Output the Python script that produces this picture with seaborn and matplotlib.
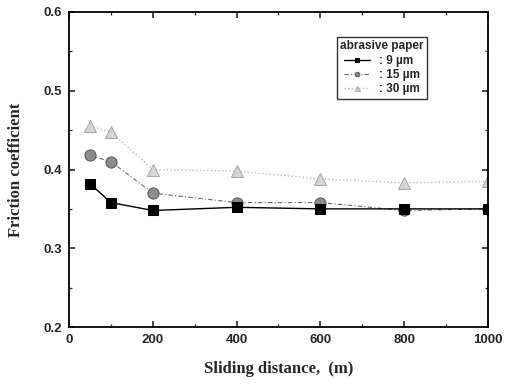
import matplotlib
matplotlib.use("Agg")
import matplotlib.pyplot as plt
import seaborn as sns
import pandas as pd
from matplotlib.ticker import MultipleLocator

distance = [50, 100, 200, 400, 600, 800, 1000]
mu_9 = [0.382, 0.358, 0.348, 0.352, 0.350, 0.350, 0.350]
mu_15 = [0.418, 0.410, 0.370, 0.358, 0.358, 0.348, 0.350]
mu_30 = [0.455, 0.448, 0.400, 0.398, 0.388, 0.383, 0.385]
labels = [": 9 \u00b5m", ": 15 \u00b5m", ": 30 \u00b5m"]

rows = []
for lab, vals in zip(labels, [mu_9, mu_15, mu_30]):
    for d, v in zip(distance, vals):
        rows.append({"d": d, "mu": v, "s": lab})
df = pd.DataFrame(rows)

sns.set_style("ticks")
plt.rcParams['font.family'] = ['Liberation Sans', 'DejaVu Sans']

fig = plt.figure(figsize=(5.11, 3.87), dpi=100)
ax = fig.add_axes([0.135, 0.155, 0.82, 0.814])

styles = {
    labels[0]: dict(color="black", marker="s", ls="-", ms=7.5, mfc="black", mec="black", lw=1.0),
    labels[1]: dict(color="#6a6a6a", marker="o", ls=(0, (4, 2, 1, 2)), ms=8, mfc="#8c8c8c", mec="#5a5a5a", lw=0.8),
    labels[2]: dict(color="#bdbdbd", marker="^", ls=":", ms=9, mfc="#d6d6d6", mec="#a8a8a8", lw=1.0),
}
for lab in labels[::-1]:
    sub = df[df.s == lab]
    st = styles[lab]
    sns.lineplot(data=sub, x="d", y="mu", ax=ax, label=lab, color=st["color"],
                 linestyle=st["ls"], linewidth=st["lw"], marker=st["marker"],
                 markersize=st["ms"], markerfacecolor=st["mfc"], markeredgecolor=st["mec"],
                 clip_on=True)

ax.set_xlim(0, 1000)
ax.set_ylim(0.2, 0.6)
ax.xaxis.set_major_locator(MultipleLocator(200))
ax.xaxis.set_minor_locator(MultipleLocator(100))
ax.set_yticks([0.2, 0.3, 0.4, 0.5, 0.6])
ax.set_yticklabels(["0.2", "0.3", "0.4", "0.5", "0.6"])
ax.yaxis.set_minor_locator(MultipleLocator(0.05))
ax.tick_params(which="both", direction="in", top=True, right=True)
ax.tick_params(which="major", length=4.5, width=1.2, labelsize=9.5, pad=5)
ax.tick_params(which="minor", length=2.5, width=0.9)
for t in ax.get_xticklabels() + ax.get_yticklabels():
    t.set_fontweight("bold")
for sp in ax.spines.values():
    sp.set_linewidth(1.3)
    sp.set_color("black")

ax.set_xlabel("Sliding distance,  (m)", family=["Liberation Serif"], fontweight="bold", fontsize=12, labelpad=11)
ax.set_ylabel("Friction coefficient", family=["Liberation Serif"], fontweight="bold", fontsize=12, labelpad=14)

h, l = ax.get_legend_handles_labels()
leg = ax.legend(h[::-1], l[::-1], title="abrasive paper", loc="upper left",
                bbox_to_anchor=(0.625, 0.94), frameon=True, fancybox=False,
                edgecolor="black", fontsize=8.5, title_fontsize=8.5,
                handlelength=2.2, borderpad=0.3, labelspacing=0.2, markerscale=0.4)
leg.get_frame().set_linewidth(1.0)
leg.get_title().set_fontweight("bold")
for t in leg.get_texts():
    t.set_fontweight("bold")

fig.savefig("out.png", dpi=100)
